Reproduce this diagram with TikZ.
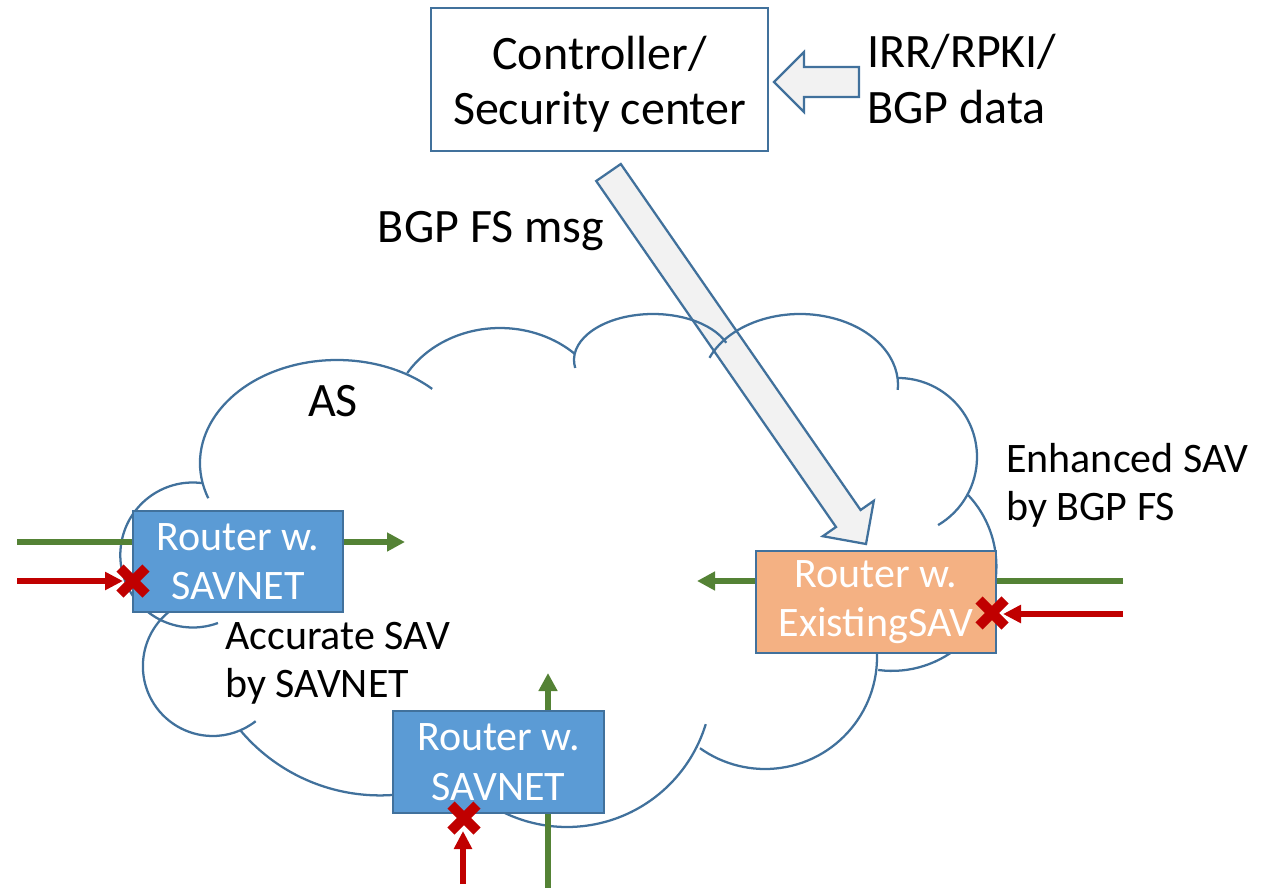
\documentclass[tikz,border=0pt]{standalone}
\usepackage{fontspec}
\setmainfont{Carlito}
\usetikzlibrary{arrows.meta}
\definecolor{cloudblue}{RGB}{65,113,156}
\definecolor{boxblue}{RGB}{91,155,213}
\definecolor{boxorange}{RGB}{244,177,131}
\definecolor{flowgreen}{RGB}{84,130,53}
\definecolor{flowred}{RGB}{192,0,0}
\definecolor{arrowgray}{RGB}{242,242,242}
\tikzset{
  cloudline/.style={draw=cloudblue, line width=1.7pt},
  router/.style={draw=cloudblue, line width=1.7pt, text=white, align=center,
    font=\fontsize{31.5}{37}\selectfont, inner sep=0pt},
  bigtext/.style={inner sep=0pt, font=\fontsize{36}{41.5}\selectfont},
  smalltext/.style={inner sep=0pt, font=\fontsize{31.5}{36}\selectfont},
  greenflow/.style={draw=flowgreen, line width=4.3pt, -{Triangle[length=13.5pt,width=13.5pt]}},
  redflow/.style={draw=flowred, line width=4.1pt, -{Triangle[length=13.5pt,width=13pt]}},
  hollowarrow/.style={draw=cloudblue, fill=arrowgray, line width=1.7pt, line join=miter},
  pics/xmark/.style={code={\draw[flowred, line width=7.5pt] (-13,-13) -- (13,13) (-13,13) -- (13,-13);}}
}
\begin{document}
\begin{tikzpicture}[x=0.75pt,y=-0.75pt]
\useasboundingbox (0,0) rectangle (1274,888);

% controller and inputs
\node[draw=cloudblue, line width=1.7pt, fill=white,
  minimum width=252.75pt, minimum height=107.25pt, inner sep=0pt] (ctrl) at (599.5,79.5) {};
\node[bigtext, align=center] (ctrltext) at (599.5,84) {Controller/\\Security center};
\node[bigtext, anchor=west, align=left] (irr) at (867,79) {IRR/RPKI/\\BGP data};
\draw[hollowarrow] (859,67) -- (804,67) -- (804,52) -- (774,82) -- (804,112) -- (804,97) -- (859,97) -- cycle;

\node[bigtext] (bgpfs) at (491,231) {BGP FS msg};

% big arrow controller -> existing SAV router
\draw[hollowarrow] (596.2,181) -- (836,527) -- (822.8,536.2) -- (866,544) -- (873.8,500.8) -- (860.6,510) -- (620.8,164) -- cycle;

% cloud (elliptic bumps)
\draw[cloudline] ([shift={(160:137 and 103)}]337,463) arc[start angle=160, end angle=314, x radius=137, y radius=103];
\draw[cloudline] ([shift={(211.7:109 and 95)}]500,423) arc[start angle=211.7, end angle=313.4, x radius=109, y radius=95];
\draw[cloudline] ([shift={(170:79 and 46)}]653,360) arc[start angle=170, end angle=338, x radius=79, y radius=46];
\draw[cloudline] ([shift={(202.5:98 and 71)}]800,385) arc[start angle=202.5, end angle=364, x radius=98, y radius=71];
\draw[cloudline] ([shift={(270:79)}]898,457) arc[start angle=270, end angle=419.5, radius=79];
\draw[cloudline] ([shift={(316.8:104.4)}]892,566.5) arc[start angle=316.8, end angle=457.6, radius=104.4];
\draw[cloudline] ([shift={(-8:112)}]765,657) arc[start angle=-8, end angle=125.5, radius=112];
\draw[cloudline] ([shift={(16.9:145)}]567,682) arc[start angle=16.9, end angle=130, radius=145];
\draw[cloudline] ([shift={(140.1:182.4)}]380,613) arc[start angle=140.1, end angle=75, radius=182.4];
\draw[cloudline] ([shift={(241:69.8)}]212.7,666.2) arc[start angle=241, end angle=52, radius=69.8];
\draw[cloudline] ([shift={(277.3:72.5)}]192.8,555) arc[start angle=277.3, end angle=69.7, radius=72.5];

\node[bigtext] (as) at (333,401) {AS};
\node[smalltext, anchor=west, align=left] (enh) at (1006,485) {Enhanced SAV\\by BGP FS};
\node[smalltext, anchor=west, align=left] (acc) at (225,663) {Accurate SAV\\by SAVNET};

% flow end points
\coordinate (g1s) at (17,542);   \coordinate (g1e) at (405,542);
\coordinate (r1s) at (17,581);   \coordinate (r1e) at (123,581);
\coordinate (g2s) at (1123,581); \coordinate (g2e) at (697,581);
\coordinate (r2s) at (1123,614); \coordinate (r2e) at (1003,614);
\coordinate (g3s) at (548,888);  \coordinate (g3e) at (548,673);
\coordinate (r3s) at (463,884);  \coordinate (r3e) at (463,831);

\draw[greenflow] (g1s) -- (g1e);
\draw[redflow] (r1s) -- (r1e);
\draw[greenflow] (g2s) -- (g2e);
\draw[redflow] (r2s) -- (r2e);
\draw[greenflow] (g3s) -- (g3e);
\draw[redflow] (r3s) -- (r3e);

% routers
\node[router, fill=boxblue, minimum width=157.5pt, minimum height=75.75pt] (rt1) at (238,561.5) {Router w.\\SAVNET};
\node[router, fill=boxorange, minimum width=180pt, minimum height=76.5pt] (rt2) at (876,602) {Router w.\\ExistingSAV};
\node[router, fill=boxblue, minimum width=158.25pt, minimum height=76.5pt] (rt3) at (498.5,762) {Router w.\\SAVNET};

% drop marks
\pic at (133,581) {xmark};
\pic at (992,613) {xmark};
\pic at (464,818) {xmark};
\end{tikzpicture}
\end{document}
